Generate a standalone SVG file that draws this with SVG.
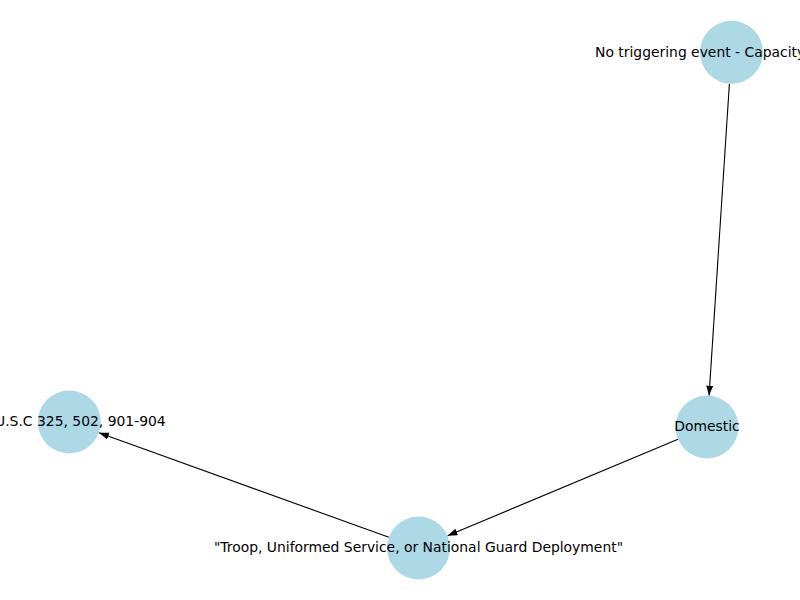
<svg xmlns="http://www.w3.org/2000/svg" width="800" height="600" viewBox="0 0 800 600">
<style>
.node circle{fill:#add8e6;stroke:none}
.node text{font-family:"DejaVu Sans",sans-serif;font-size:13.9px;fill:#000;text-anchor:middle;dominant-baseline:central}
.edge{stroke:#000;stroke-width:1.1;fill:none;marker-end:url(#arr)}
</style>
<defs>
<marker id="arr" markerUnits="userSpaceOnUse" markerWidth="11" markerHeight="8" refX="10" refY="3.5" orient="auto">
<path d="M0,0 L10,3.5 L0,7 z" fill="#000"/>
</marker>
</defs>
<rect width="800" height="600" fill="#fff"/>
<g id="connectors">
<line class="edge" x1="729.4" y1="83.7" x2="709.05" y2="395.6"/>
<line class="edge" x1="678" y1="439.2" x2="447.5" y2="535.8"/>
<line class="edge" x1="388.9" y1="537.3" x2="98.9" y2="432.7"/>
</g>
<g id="node-capacity" class="node">
<circle cx="731.5" cy="52.3" r="31.5"/>
<text x="595" y="51.5" style="text-anchor:start">No triggering event - Capacity</text>
</g>
<g id="node-domestic" class="node">
<circle cx="707" cy="427" r="31.5"/>
<text x="707" y="426.2">Domestic</text>
</g>
<g id="node-troop" class="node">
<circle cx="418.5" cy="548" r="31.5"/>
<text x="418.5" y="547.2">"Troop, Uniformed Service, or National Guard Deployment"</text>
</g>
<g id="node-usc" class="node">
<circle cx="69.3" cy="422" r="31.5"/>
<text x="69.3" y="421.2">32 U.S.C 325, 502, 901-904</text>
</g>
</svg>
